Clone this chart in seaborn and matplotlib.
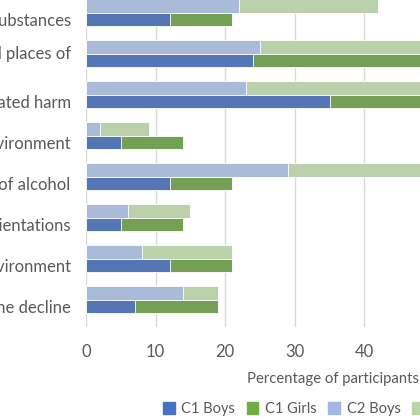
import pandas as pd
import matplotlib
matplotlib.use('Agg')
import matplotlib.pyplot as plt
from matplotlib.patches import Patch
import seaborn as sns

# data (percentage of participants)
categories = [
    'Use of other substances',
    'Drinking in parks and places of\nworship',
    'Alcohol-related harm',
    'School drinking environment',
    'Price of alcohol',
    'Sexual orientations',
    'Home drinking environment',
    'Reasons for the decline',
]
c1_boys = [12, 24, 35, 5, 12, 5, 12, 7]
c1_girls = [9, 32, 17, 9, 9, 9, 9, 12]
c2_boys = [22, 25, 23, 2, 29, 6, 8, 14]
c2_girls = [20, 27, 28, 7, 22, 9, 13, 5]
x_ticks = [0, 10, 20, 30, 40, 50, 60, 70]
legend_labels = ['C1 Boys', 'C1 Girls', 'C2 Boys', 'C2 Girls']

# colours
blue = '#4472C4'
green = '#70AD47'
light_blue = '#A2B7E1'
light_green = '#B9D7A6'
text_col = '#595959'
grid_col = '#D9D9D9'

rows = []
for i, cat in enumerate(categories):
    rows.append({'category': cat, 'cohort': 'C2', 'boys': c2_boys[i], 'total': c2_boys[i] + c2_girls[i]})
    rows.append({'category': cat, 'cohort': 'C1', 'boys': c1_boys[i], 'total': c1_boys[i] + c1_girls[i]})
df = pd.DataFrame(rows)

sns.set_style('white')
plt.rcParams['font.family'] = ['Lato', 'DejaVu Sans']

fig = plt.figure(figsize=(4.2, 4.2), dpi=100)
# axes runs off the right edge, like the cropped original
px = 6.96  # pixels per percent
ax = fig.add_axes([86 / 420, 93 / 420, 70 * px / 420, 328 / 420])

hue_order = ['C2', 'C1', 'gap']
# girls are drawn as the full stack, boys on top of it
sns.barplot(data=df, y='category', x='total', hue='cohort', hue_order=hue_order,
            order=categories, palette={'C2': light_green, 'C1': green, 'gap': 'white'},
            width=1, errorbar=None, legend=False, edgecolor='white', linewidth=0.6, ax=ax)
sns.barplot(data=df, y='category', x='boys', hue='cohort', hue_order=hue_order,
            order=categories, palette={'C2': light_blue, 'C1': blue, 'gap': 'white'},
            width=1, errorbar=None, legend=False, edgecolor='white', linewidth=0.6, ax=ax)

ax.set_xlim(0, 70)
ax.set_ylim(len(categories) - 0.5, -0.5)
ax.set_xticks(x_ticks)
ax.grid(axis='x', color=grid_col, linewidth=1)
ax.set_axisbelow(True)
for s in ax.spines.values():
    s.set_visible(False)
ax.set_xlabel('')
ax.set_ylabel('')
ax.tick_params(axis='x', length=0, pad=12, labelsize=12, labelcolor=text_col)
ax.tick_params(axis='y', length=0, pad=11, labelsize=12, labelcolor=text_col)
for lab in ax.get_yticklabels():
    lab.set_multialignment('center')

fig.text(247 / 420, 1 - 379 / 420, 'Percentage of participants', ha='left', va='center',
         fontsize=10.7, color=text_col)

handles = [Patch(color=c) for c in [blue, green, light_blue, light_green]]
fig.legend(handles, legend_labels, loc='center left', bbox_to_anchor=(163 / 420, 1 - 409 / 420),
           ncol=4, frameon=False, handlelength=0.8, handleheight=0.8, handletextpad=0.45,
           columnspacing=0.8, borderpad=0, borderaxespad=0, fontsize=10.5, labelcolor=text_col)

fig.savefig('out.png', dpi=100)
